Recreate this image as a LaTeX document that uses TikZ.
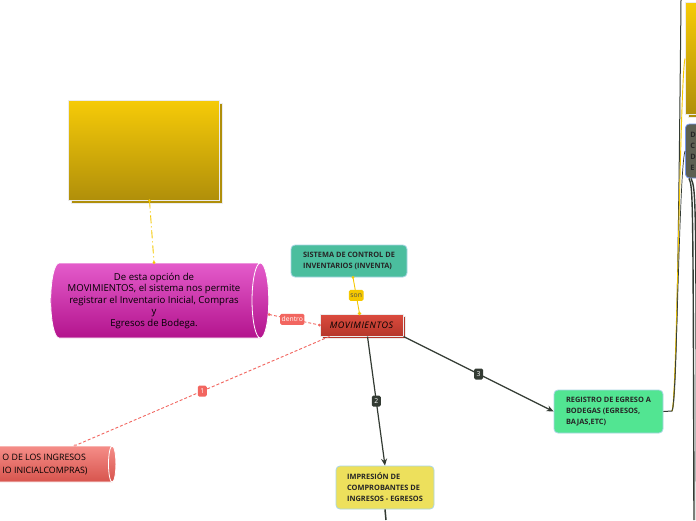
\documentclass[tikz,border=0pt]{standalone}
\usepackage{fontspec}
\setmainfont{Open Sans}
\usetikzlibrary{shapes.geometric, shadows, arrows.meta}

\definecolor{goldtop}{HTML}{F6CB08}
\definecolor{goldbot}{HTML}{B08F0A}
\definecolor{magtop}{HTML}{E45CCB}
\definecolor{magbot}{HTML}{B3138D}
\definecolor{salmtop}{HTML}{F58D88}
\definecolor{salmbot}{HTML}{D7544D}
\definecolor{movtop}{HTML}{DC4B3E}
\definecolor{movbot}{HTML}{B5372B}
\definecolor{tealbox}{HTML}{4BBE9E}
\definecolor{greenbox}{HTML}{52E592}
\definecolor{yellowbox}{HTML}{EDE05C}
\definecolor{graybox}{HTML}{5C5F52}
\definecolor{darkline}{HTML}{333B33}
\definecolor{redline}{HTML}{F26660}
\definecolor{yelline}{HTML}{F5C800}
\definecolor{paleblue}{HTML}{A9D6E5}

\tikzset{
  goldbox/.style={rectangle, inner sep=0pt, draw=white!85!gray, line width=1pt,
    top color=goldtop, bottom color=goldbot,
    general shadow={shadow xshift=3pt, shadow yshift=-3pt, fill=goldbot, draw=white!85!gray}},
  tube/.style={cylinder, draw=white, line width=0.8pt, inner sep=2pt},
  topicbox/.style={rectangle, rounded corners=4pt, draw=paleblue, line width=0.8pt,
    align=left, inner sep=6pt, text=black!85,
    font=\fontsize{7.4}{11}\selectfont\bfseries},
  tagbox/.style={rectangle, rounded corners=1.5pt, fill=#1, inner sep=1.5pt,
    minimum height=11pt, font=\fontsize{6.8}{7}\selectfont},
  numtag/.style={tagbox=#1, text=white, minimum width=9pt},
  darkconn/.style={draw=darkline, line width=1.2pt, -{Stealth[length=7pt, width=6pt]}},
  darkwire/.style={draw=darkline, line width=1pt},
  redconn/.style={draw=redline, line width=0.9pt, dash pattern=on 3pt off 2pt},
  yelconn/.style={draw=yelline, line width=0.9pt}
}

\begin{document}
\begin{tikzpicture}[x=1pt, y=1pt]

  % --- page ---
  \fill[white] (0,-520) rectangle (696,0);
  \useasboundingbox (0,-520) rectangle (696,0);

  % --- left gold box and its note ---
  \node[goldbox, minimum width=151pt, minimum height=100pt] (gold) at (143.5,-150) {};

  \node[tube, shape aspect=0.28, minimum height=218pt, minimum width=75pt,
        top color=magtop, bottom color=magbot, align=center,
        font=\fontsize{9.6}{11.5}\selectfont] (mag) at (154,-300.5)
    {De esta opción de\\MOVIMIENTOS, el sistema nos permite\\registrar el Inventario Inicial, Compras\\y\\Egresos de Bodega.};

  % --- central topic ---
  \node[rectangle, draw=white!85!gray, line width=1pt, top color=movtop, bottom color=movbot,
        general shadow={shadow xshift=2.5pt, shadow yshift=-2.5pt, fill=movbot, draw=white!85!gray},
        minimum width=83pt, minimum height=22pt, inner sep=0pt,
        font=\fontsize{9}{10}\selectfont\itshape\addfontfeature{LetterSpace=6}] (mov) at (361.5,-325) {MOVIMIENTOS};

  \node[topicbox, fill=tealbox, minimum width=116pt, minimum height=32pt] (sist) at (349,-261)
    {SISTEMA DE CONTROL DE\\INVENTARIOS (INVENTA)};

  % --- subtopics ---
  \node[tube, shape aspect=0.3, minimum height=136pt, minimum width=36pt,
        top color=salmtop, bottom color=salmbot, align=left,
        font=\fontsize{8.8}{13}\selectfont] (regin) at (45,-464)
    {O DE LOS INGRESOS\\IO INICIALCOMPRAS)};

  \node[topicbox, fill=yellowbox, minimum width=98pt, minimum height=43pt] (impr) at (385,-487.5)
    {IMPRESIÓN DE\\COMPROBANTES DE\\INGRESOS - EGRESOS};

  \node[topicbox, fill=greenbox, minimum width=109pt, minimum height=43pt] (reg) at (608.5,-411.5)
    {REGISTRO DE EGRESO A\\BODEGAS (EGRESOS,\\BAJAS,ETC)};

  % --- right edge ---
  \node[goldbox, minimum width=151pt, minimum height=112pt, anchor=west] (gold2) at (685,-58.5) {};

  \node[topicbox, fill=graybox, draw=paleblue!70!blue, text width=50pt, minimum height=54pt,
        inner sep=5pt, anchor=west] (gbox) at (685,-151) {D\\C\\D\\E};

  \coordinate (regknee) at (672,-411);
  \coordinate (topout) at (681,0);
  \coordinate (botout) at (694,-520);
  \coordinate (botout2) at (696.5,-520);
  \coordinate (improut) at (386,-520);

  % --- connectors ---
  \draw[yelconn, dash pattern=on 8pt off 3pt on 1pt off 3pt] ([xshift=6pt]gold.south) -- (mag.north);
  \fill[yelline] ([xshift=6pt]gold.south) circle (1.5pt) (mag.north) circle (1.5pt);

  \draw[yelconn] ([xshift=-2pt]mov.north) -- node[tagbox=yelline, text=black!70] (son) {son} ([xshift=4pt]sist.south);
  \fill[yelline] ([xshift=-2pt]mov.north) circle (1.8pt) ([xshift=4pt]sist.south) circle (1.5pt);

  \draw[redconn] ([yshift=-14pt]mag.east) -- node[pos=0.46, tagbox=redline, text=white] (dentro) {dentro} (mov.west);
  \fill[redline] ([yshift=-14pt]mag.east) circle (1.5pt) (mov.west) circle (1.5pt);

  \draw[redconn] ([xshift=-32pt]mov.south) -- node[numtag=redline] (n1) {1} ([xshift=30pt]regin.north);
  \fill[redline!60] ([xshift=30pt]regin.north) circle (1.5pt);

  \draw[darkconn] ([xshift=6pt]mov.south) -- node[numtag=darkline] (n2) {2} (impr.north);
  \draw[darkconn] (mov.south east) -- node[numtag=darkline] (n3) {3} (reg.west);

  \draw[darkwire, line width=1.5pt] (impr.south) -- (improut);

  % --- lines along the right edge ---
  \draw[darkwire] (reg.east) -- (regknee) .. controls (676,-405) and (678,-300) .. (topout);
  \draw[yelconn] (regknee) .. controls (677,-400) and (680,-80) .. (gold2.west);
  \draw[darkwire, line width=0.7pt] (regknee) .. controls (677,-400) and (679,-170) .. (gbox.west);
  \draw[darkwire, line width=1.4pt] ([xshift=4pt]gbox.south west) .. controls (693,-188) .. (botout);
  \draw[darkwire, line width=1.4pt] ([xshift=6pt]gbox.south west) .. controls (696,-190) .. (botout2);

\end{tikzpicture}
\end{document}
